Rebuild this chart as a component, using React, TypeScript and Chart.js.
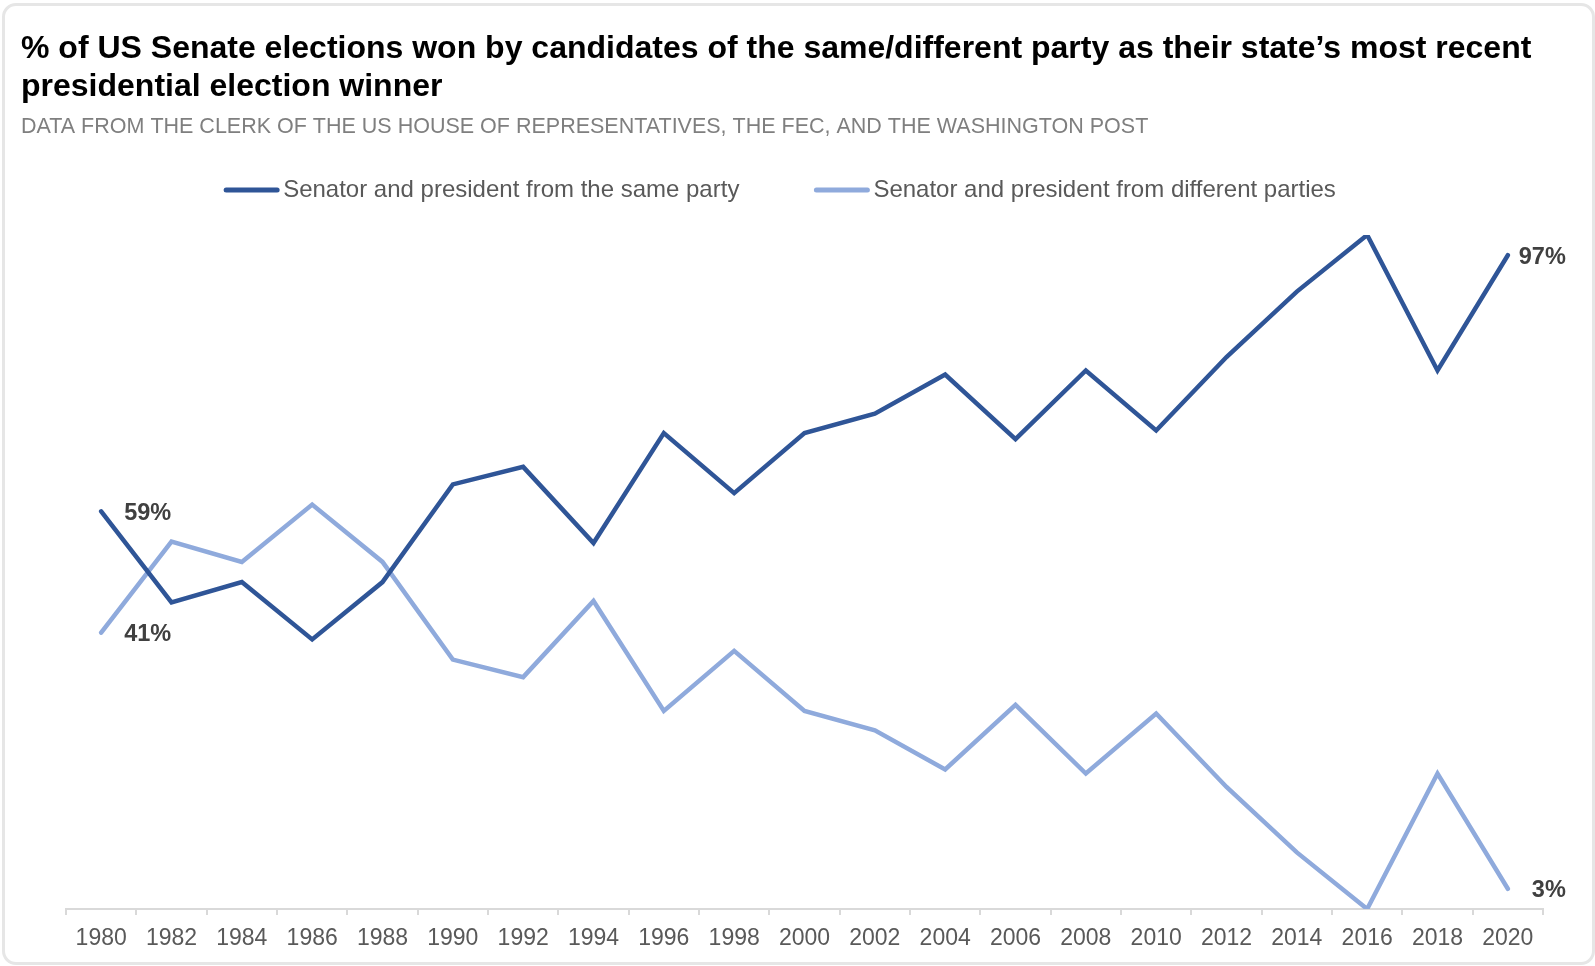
import { useEffect, useRef } from "react";
import { Chart, registerables } from "chart.js";

Chart.register(...registerables);

const years = ["1980", "1982", "1984", "1986", "1988", "1990", "1992", "1994", "1996", "1998", "2000", "2002", "2004", "2006", "2008", "2010", "2012", "2014", "2016", "2018", "2020"];
const samePartyPct = [59, 45.5, 48.5, 40, 48.5, 63, 65.6, 54.3, 70.6, 61.7, 70.6, 73.5, 79.3, 69.7, 79.9, 71, 81.9, 91.6, 100, 79.9, 97];
const differentPartyPct = [41, 54.5, 51.5, 60, 51.5, 37, 34.4, 45.7, 29.4, 38.3, 29.4, 26.5, 20.7, 30.3, 20.1, 29, 18.1, 8.4, 0, 20.1, 3];
const seriesLabels = ["Senator and president from the same party", "Senator and president from different parties"];
const seriesColors = ["#2F5597", "#8FAADC"];
const titleLines = [
  "% of US Senate elections won by candidates of the same/different party as their state\u2019s most recent",
  "presidential election winner",
];
const subtitleText = "DATA FROM THE CLERK OF THE US HOUSE OF REPRESENTATIVES, THE FEC, AND THE WASHINGTON POST";

const FONT = "'Liberation Sans', Arial, sans-serif";

export default function App() {
  const ref = useRef<HTMLCanvasElement>(null);

  useEffect(() => {
    document.body.style.margin = "0";
    const legendPlugin = {
      id: "customLegend",
      afterDraw(chart: any) {
        const ctx = chart.ctx;
        const fontSize = 24;
        const lineLen = 55;
        const textGap = 4;
        const itemGap = 75;
        ctx.save();
        ctx.font = `${fontSize}px ${FONT}`;
        const widths = chart.data.datasets.map((d: any) => lineLen + textGap + ctx.measureText(d.label).width);
        const total = widths.reduce((a: number, b: number) => a + b, 0) + itemGap * (widths.length - 1);
        let x = 780 - total / 2;
        const y = 190;
        chart.data.datasets.forEach((d: any, i: number) => {
          ctx.strokeStyle = d.borderColor;
          ctx.lineWidth = 5;
          ctx.lineCap = "round";
          ctx.beginPath();
          ctx.moveTo(x + 2, y);
          ctx.lineTo(x + lineLen - 2, y);
          ctx.stroke();
          ctx.fillStyle = "#595959";
          ctx.textBaseline = "middle";
          ctx.textAlign = "left";
          ctx.fillText(d.label, x + lineLen + textGap, y);
          x += widths[i] + itemGap;
        });
        ctx.restore();
      },
    };

    const endLabelPlugin = {
      id: "endLabels",
      afterDatasetsDraw(chart: any) {
        const ctx = chart.ctx;
        ctx.save();
        ctx.font = `bold 23.5px ${FONT}`;
        ctx.fillStyle = "#404040";
        ctx.textBaseline = "middle";
        chart.data.datasets.forEach((d: any, di: number) => {
          const meta = chart.getDatasetMeta(di);
          const first = meta.data[0];
          const last = meta.data[meta.data.length - 1];
          ctx.textAlign = "left";
          ctx.fillText(`${Math.round(d.data[0])}%`, first.x + 23, first.y + 2);
          ctx.textAlign = "right";
          ctx.fillText(`${Math.round(d.data[d.data.length - 1])}%`, last.x + 58, last.y + 2);
        });
        ctx.restore();
      },
    };

    const chart = new Chart(ref.current as HTMLCanvasElement, {
      type: "line",
      data: {
        labels: years,
        datasets: [
          {
            label: seriesLabels[0],
            data: samePartyPct,
            borderColor: seriesColors[0],
            backgroundColor: seriesColors[0],
            borderWidth: 4.5,
            pointRadius: 0,
            tension: 0,
            borderCapStyle: "round",
          },
          {
            label: seriesLabels[1],
            data: differentPartyPct,
            borderColor: seriesColors[1],
            backgroundColor: seriesColors[1],
            borderWidth: 4.5,
            pointRadius: 0,
            tension: 0,
            borderCapStyle: "round",
          },
        ],
      },
      options: {
        responsive: false,
        animation: false,
        layout: { padding: { left: 21, right: 52, top: 8, bottom: 0 } },
        plugins: {
          legend: { display: false },
          tooltip: { enabled: false },
          title: {
            display: true,
            text: titleLines,
            align: "start",
            color: "#000000",
            font: { family: FONT, size: 32, weight: "bold", lineHeight: 1.171875 },
            padding: { top: 22.5, bottom: 0 },
          },
          subtitle: {
            display: true,
            text: subtitleText,
            align: "start",
            color: "#7f7f7f",
            font: { family: FONT, size: 21.5, lineHeight: 1.2 },
            padding: { top: 9, bottom: 94.7 },
          },
        },
        scales: {
          x: {
            offset: true,
            grid: {
              offset: true,
              drawOnChartArea: false,
              drawTicks: true,
              tickLength: 6,
              color: "#d9d9d9",
              lineWidth: 2,
            },
            border: { display: true, color: "#d9d9d9", width: 2 },
            ticks: {
              color: "#595959",
              font: { family: FONT, size: 23 },
              padding: 10,
              maxRotation: 0,
              autoSkip: false,
            },
            afterFit: (s: any) => {
              s.height = 57;
            },
          },
          y: {
            min: 0,
            max: 100,
            display: true,
            grid: { display: false },
            border: { display: false },
            ticks: { display: false },
            afterFit: (s: any) => {
              s.width = 45;
            },
          },
        },
      },
      plugins: [legendPlugin, endLabelPlugin],
    } as any);
    return () => chart.destroy();
  }, []);

  return (
    <div style={{ position: "relative", width: 1595, height: 966, overflow: "hidden", background: "#ffffff" }}>
      <div
        style={{
          position: "absolute",
          left: 2,
          top: 3,
          width: 1593,
          height: 962,
          boxSizing: "border-box",
          border: "3px solid #e6e6e6",
          borderRadius: 14,
        }}
      />
      <canvas ref={ref} width={1595} height={966} style={{ position: "absolute", left: 0, top: 0, width: 1595, height: 966 }} />
    </div>
  );
}
